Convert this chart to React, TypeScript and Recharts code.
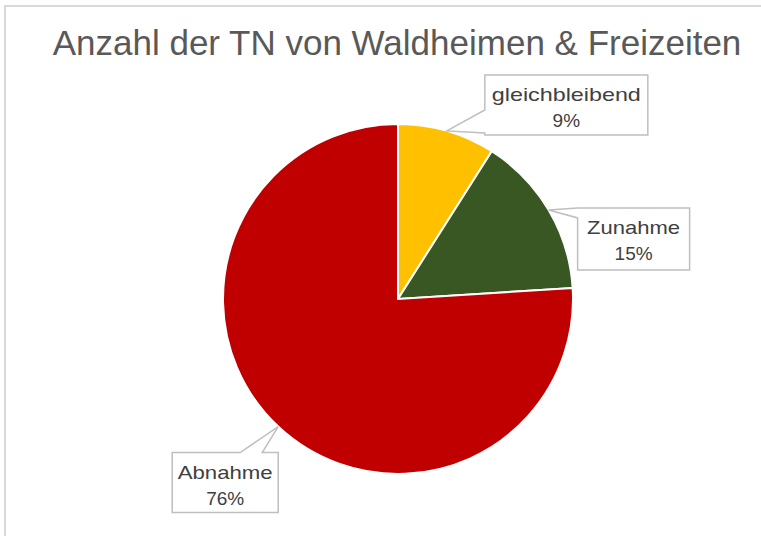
import React from "react";
import { Cell, Pie, PieChart } from "recharts";

const categories = ["gleichbleibend", "Zunahme", "Abnahme"];
const shares = [9, 15, 76];
const sliceColors = ["#FFC000", "#385723", "#C00000"];

const data = categories.map((name, i) => ({ name, value: shares[i] }));

const W = 761;
const H = 536;
const RADIAN = Math.PI / 180;

// callout box placement relative to the tip of its pointer
const callouts = [
  { dx: 38, dy: -56, w: 163, h: 60, side: "left", b0: 35, b1: 58, fit: 149 },
  { dx: 29, dy: -2, w: 112, h: 62, side: "left", b0: 0, b1: 10, fit: 93 },
  { dx: -106, dy: 26, w: 106, h: 60, side: "top", b0: 68, b1: 90, fit: 95 },
];

const calloutPath = (x: number, y: number, c: any, tx: number, ty: number) => {
  const { w, h, side, b0, b1 } = c;
  let d = `M${x},${y}`;
  if (side === "top") d += ` L${x + b0},${y} L${tx},${ty} L${x + b1},${y}`;
  d += ` L${x + w},${y} L${x + w},${y + h} L${x},${y + h}`;
  if (side === "left") d += ` L${x},${y + b1} L${tx},${ty} L${x},${y + b0}`;
  return d + " Z";
};

const renderLabel = (props: any) => {
  const { cx, cy, midAngle, outerRadius, index, name, percent } = props;
  const tx = cx + outerRadius * Math.cos(-midAngle * RADIAN);
  const ty = cy + outerRadius * Math.sin(-midAngle * RADIAN);
  const c = callouts[index];
  const x = tx + c.dx;
  const y = ty + c.dy;
  const mx = x + c.w / 2;
  return (
    <g key={`lbl-${index}`}>
      <path
        d={calloutPath(x, y, c, tx, ty)}
        fill="#ffffff"
        stroke="#bfbfbf"
        strokeWidth={1.5}
      />
      <text
        x={mx}
        y={y + 26}
        textAnchor="middle"
        fill="#404040"
        fontSize={19}
        textLength={c.fit}
        lengthAdjust="spacingAndGlyphs"
      >
        {name}
      </text>
      <text x={mx} y={y + 52} textAnchor="middle" fill="#404040" fontSize={19}>
        {`${Math.round(percent * 100)}%`}
      </text>
    </g>
  );
};

const App: React.FC = () => {
  return (
    <div
      style={{
        position: "absolute",
        left: 0,
        top: 0,
        width: W,
        height: H,
        overflow: "hidden",
        background: "#ffffff",
        fontFamily: "'Liberation Sans', Arial, sans-serif",
      }}
    >
      <svg
        width={W}
        height={H}
        style={{ position: "absolute", left: 0, top: 0 }}
      >
        <rect
          x={5}
          y={6}
          width={820}
          height={620}
          fill="#ffffff"
          stroke="#d9d9d9"
          strokeWidth={2}
        />
        <text
          x={397}
          y={55}
          textAnchor="middle"
          fill="#595959"
          fontSize={35}
        >
          Anzahl der TN von Waldheimen &amp; Freizeiten
        </text>
      </svg>
      <div style={{ position: "absolute", left: 0, top: 0 }}>
        <PieChart
          width={W}
          height={H}
          margin={{ top: 0, right: 0, bottom: 0, left: 0 }}
        >
          <Pie
            data={data}
            dataKey="value"
            nameKey="name"
            cx={398}
            cy={299}
            outerRadius={175}
            startAngle={90}
            endAngle={-270}
            stroke="#ffffff"
            strokeWidth={2}
            label={renderLabel}
            labelLine={false}
            isAnimationActive={false}
          >
            {data.map((d, i) => (
              <Cell key={d.name} fill={sliceColors[i]} />
            ))}
          </Pie>
        </PieChart>
      </div>
    </div>
  );
};

export default App;
